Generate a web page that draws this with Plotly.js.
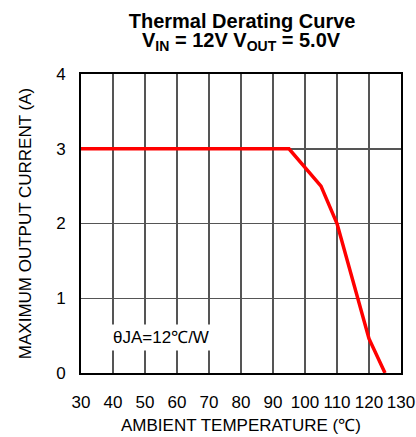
<!DOCTYPE html>
<html>
<head>
<meta charset="utf-8">
<script src="https://cdn.plot.ly/plotly-3.0.1.min.js"></script>
<style>html,body{margin:0;padding:0;background:#fff;}#chart{width:416px;height:437px;}</style>
</head>
<body>
<div id="chart"></div>
<script>
const temperature = [30, 95, 105, 110, 120, 125];
const maxCurrent = [3, 3, 2.5, 2, 0.46, 0];
const xTicks = [30, 40, 50, 60, 70, 80, 90, 100, 110, 120, 130];
const yTicks = [0, 1, 2, 3, 4];
const titleLine1 = 'Thermal Derating Curve';
const titleLine2 = 'V<sub>IN</sub> = 12V V<sub>OUT</sub> = 5.0V';
const noteText = 'θJA=12℃/W';

const F = 'Liberation Sans, Arial, sans-serif';

const trace = {
  x: temperature, y: maxCurrent, type: 'scatter', mode: 'lines',
  line: {color: '#ff0000', width: 3.5}, hoverinfo: 'skip'
};

const layout = {
  width: 416, height: 437,
  margin: {l: 81, r: 15, t: 74, b: 64},
  paper_bgcolor: '#fff', plot_bgcolor: '#fff',
  showlegend: false,
  font: {family: F, color: '#000'},
  title: {text: titleLine1, font: {family: F, size: 20, color: '#000', weight: 'bold'},
          x: 0.582, xanchor: 'center', y: 0.968, yanchor: 'top'},
  xaxis: {
    range: [30, 130], tickvals: xTicks, ticktext: xTicks.map(String),
    showgrid: true, gridcolor: '#555', gridwidth: 1.5,
    showline: true, mirror: true, linecolor: '#000', linewidth: 2,
    ticks: 'outside', ticklen: 13, tickcolor: 'rgba(0,0,0,0)',
    tickfont: {family: F, size: 17}, zeroline: false,
    title: {text: 'AMBIENT TEMPERATURE (℃)', font: {family: F, size: 17}, standoff: 8}
  },
  yaxis: {
    range: [0, 4], tickvals: yTicks, ticktext: yTicks.map(String),
    showgrid: true, gridcolor: '#555', gridwidth: 1.5,
    showline: true, mirror: true, linecolor: '#000', linewidth: 2,
    ticks: 'outside', ticklen: 10, tickcolor: 'rgba(0,0,0,0)',
    tickfont: {family: F, size: 17}, zeroline: false,
    title: {text: 'MAXIMUM OUTPUT CURRENT (A)', font: {family: F, size: 17}, standoff: 20}
  },
  annotations: [
    {text: '<b>' + titleLine2 + '</b>', xref: 'paper', yref: 'paper', x: 0.5, y: 1.061,
     xanchor: 'center', yanchor: 'bottom', showarrow: false,
     font: {family: F, size: 20, color: '#000'}},
    {text: noteText, xref: 'x', yref: 'y', x: 55, y: 0.47, xanchor: 'center', yanchor: 'middle',
     showarrow: false, bgcolor: '#fff', borderpad: 3,
     font: {family: F, size: 17, color: '#000'}}
  ]
};

Plotly.newPlot('chart', [trace], layout, {displayModeBar: false, staticPlot: true});
</script>
</body>
</html>
